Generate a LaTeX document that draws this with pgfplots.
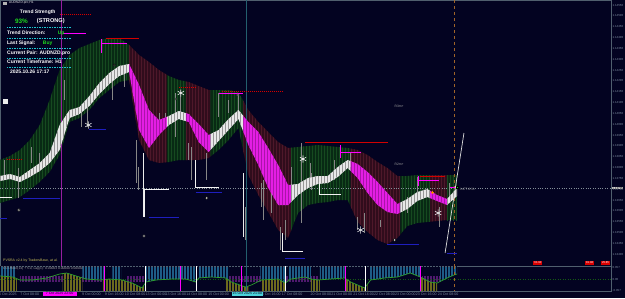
\documentclass[border=0pt]{standalone}
\usepackage{fontspec}
\setmainfont{Liberation Sans}
\usepackage{pgfplots}
\pgfplotsset{compat=1.18}
\usetikzlibrary{patterns}

\definecolor{bg}{RGB}{3,3,33}
\definecolor{axisc}{RGB}{80,95,110}
\definecolor{tickc}{RGB}{125,140,160}
\definecolor{bandG}{RGB}{8,42,20}
\definecolor{stripeG}{RGB}{22,74,32}
\definecolor{bandR}{RGB}{48,12,28}
\definecolor{stripeR}{RGB}{78,24,42}
\definecolor{ribW}{RGB}{232,232,232}
\definecolor{stripeW}{RGB}{150,150,150}
\definecolor{ribM}{RGB}{228,30,228}
\definecolor{stripeM}{RGB}{170,20,170}
\definecolor{candc}{RGB}{135,135,135}
\definecolor{resR}{RGB}{210,0,0}
\definecolor{supB}{RGB}{30,30,190}
\definecolor{mag}{RGB}{255,0,255}
\definecolor{vmag}{RGB}{150,30,160}
\definecolor{teal}{RGB}{35,95,110}
\definecolor{orng}{RGB}{160,100,40}
\definecolor{cyanl}{RGB}{30,200,210}
\definecolor{grn}{RGB}{30,220,30}
\definecolor{oscB}{RGB}{30,92,134}
\definecolor{oscO}{RGB}{108,106,30}
\definecolor{oscP}{RGB}{80,25,110}
\definecolor{oscL}{RGB}{45,160,45}

\pgfplotsset{
  bandg/.style={fill=bandG, draw=none, postaction={pattern=vertical lines, pattern color=stripeG}},
  bandr/.style={fill=bandR, draw=none, postaction={pattern=vertical lines, pattern color=stripeR}},
  ribw/.style={fill=ribW, draw=none, postaction={pattern=vertical lines, pattern color=stripeW}},
  ribm/.style={fill=ribM, draw=none, postaction={pattern=vertical lines, pattern color=stripeM}},
}

\begin{document}
\begin{tikzpicture}
\useasboundingbox (0,0) rectangle (625pt,-298pt);
\fill[bg] (0,0) rectangle (625pt,-298pt);

%================ MAIN PANEL =================
\begin{axis}[
  at={(0pt,0pt)}, anchor=north west,
  scale only axis, width=611pt, height=266pt,
  xmin=0, xmax=615, ymin=0, ymax=266, y dir=reverse,
  axis line style={draw=axisc, line width=0.6pt},
  xtick=\empty,
  ytick={5,15.8,26.7,37.5,48.3,59.2,70,80.8,91.7,102.5,113.3,124.2,135,145.8,156.7,167.5,178.3,189.2,200,210.8,221.7,232.5,243.3,254.2},
  yticklabels={1.14550,1.14500,1.14450,1.14400,1.14350,1.14300,1.14250,1.14200,1.14150,1.14100,1.14050,1.14000,1.13950,1.13900,1.13850,1.13800,1.13750,1.13700,1.13650,1.13600,1.13550,1.13500,1.13450,1.13400},
  ytick pos=right, yticklabel pos=right,
  tick align=outside, major tick length=1.2pt,
  tick style={draw=axisc, line width=0.4pt},
  yticklabel style={font=\fontsize{2.9}{3.2}\selectfont, text=tickc, inner sep=0.3pt},
  clip=false,
]
% ---- envelope band: upper edge then lower edge reversed ----
\addplot[bandg] coordinates {(0,160)(10,156)(20,150)(30,140)(40,125)(50,100)(60,70)(70,55)(80,48)(90,44)(100,40)(110,38)(120,38)(130,45)
 (130,80)(120,82)(110,90)(100,98)(90,110)(80,118)(70,122)(60,155)(50,172)(40,182)(30,190)(20,197)(10,200)(0,203)};
\addplot[bandr] coordinates {(130,45)(140,55)(150,62)(160,70)(168,74.8) (168,162.2)(160,163)(150,160)(140,140)(130,80)};
\addplot[bandg] coordinates {(168,74.8)(170,76)(180,80)(187,81.4) (187,160)(180,160)(170,162)(168,162.2)};
\addplot[bandr] coordinates {(187,81.4)(190,82)(200,86)(210,90)(212,90) (212,156.4)(210,158)(200,160)(190,160)(187,160)};
\addplot[bandg] coordinates {(212,90)(220,90)(230,90)(240,92)(245,101) (245,151.5)(240,128)(230,140)(220,150)(212,156.4)};
\addplot[bandr] coordinates {(245,101)(250,110)(260,122)(270,132)(280,142)(290,148)(293,147.7) (293,230.5)(290,238)(280,230)(270,212)(260,195)(250,175)(245,151.5)};
\addplot[bandg] coordinates {(293,147.7)(300,147)(310,146)(320,145)(330,146)(340,147)(350,148)(353,148.6) (353,206.6)(350,200)(340,200)(330,202)(320,203)(310,205)(300,213)(293,230.5)};
\addplot[bandr] coordinates {(353,148.6)(360,150)(370,155)(380,162)(390,168)(400,176)(403,176) (403,234.4)(400,238)(390,244)(380,240)(370,232)(360,222)(353,206.6)};
\addplot[bandg] coordinates {(403,176)(410,176)(420,175)(430,175)(433,175) (433,221.7)(430,222)(420,223)(410,226)(403,234.4)};
\addplot[bandr] coordinates {(433,175)(440,175)(450,175) (450,220)(440,221)(433,221.7)};
\addplot[bandg] coordinates {(450,175)(460,175) (460,220)(450,220)};

% price line
\addplot[draw=axisc!70, dotted, line width=0.4pt] coordinates {(0,188) (615,188)};

% vertical markers
\addplot[draw=vmag, line width=0.8pt] coordinates {(62,0) (62,266)};
\addplot[draw=teal, line width=1.1pt] coordinates {(248,0) (248,266)};
\addplot[draw=orng, dashed, line width=0.6pt] coordinates {(457,0) (457,266)};

% candles / wicks
\addplot[draw=candc, line width=0.9pt, unbounded coords=jump] coordinates {
(4,160)(4,180) (4,nan)
(19,168)(19,198) (19,nan)
(32,147)(32,163) (32,nan)
(40,153)(40,167) (40,nan)
(53,147)(53,157) (53,nan)
(65,80)(65,100) (65,nan)
(82,107)(82,127) (82,nan)
(88,100)(88,127) (88,nan)
(113,80)(113,100) (113,nan)
(125,70)(125,87) (125,nan)
(137,140)(137,183) (137,nan)
(139,167)(139,190) (139,nan)
(160,113)(160,130) (160,nan)
(167,113)(167,127) (167,nan)
(177,93)(177,137) (177,nan)
(182,90)(182,120) (182,nan)
(190,143)(190,160) (190,nan)
(193,147)(193,180) (193,nan)
(208,153)(208,180) (208,nan)
(220,93)(220,117) (220,nan)
(230,100)(230,113) (230,nan)
(240,93)(240,113) (240,nan)
(247,207)(247,240) (247,nan)
(263,183)(263,207) (263,nan)
(265,180)(265,220) (265,nan)
(273,190)(273,213) (273,nan)
(282,227)(282,250) (282,nan)
(287,220)(287,240) (287,nan)
(293,167)(293,187) (293,nan)
(303,143)(303,223) (303,nan)
(312,163)(312,180) (312,nan)
(313,173)(313,190) (313,nan)
(337,160)(337,180) (337,nan)
(353,153)(353,167) (353,nan)
(360,217)(360,230) (360,nan)
(367,213)(367,233) (367,nan)
(383,220)(383,227) (383,nan)
(410,197)(410,213) (410,nan)
(420,177)(420,193) (420,nan)
(442,207)(442,227) (442,nan)
(452,183)(452,197)
};
\addplot[draw=white!85!gray, line width=1.1pt, unbounded coords=jump] coordinates {
(144,153)(144,217) (144,nan)
(245,173)(245,237)
};

% ---- moving-average ribbon: top edge then bottom edge reversed ----
\addplot[ribw] coordinates {(0,176)(10,174)(20,177)(30,170)(40,163)(50,153)(60,125)(70,110)(80,107)(90,96)(100,83)(110,73)(120,66)(130,64)
 (130,72)(120,76)(110,84)(100,94)(90,106)(80,114)(70,118)(60,150)(50,163)(40,171)(30,177)(20,182)(10,179)(0,181)};
\addplot[ribm] coordinates {(130,64)(140,85)(150,110)(160,120)(168,116.8) (168,127)(160,135)(150,148)(140,130)(130,72)};
\addplot[ribw] coordinates {(168,116.8)(170,116)(180,111)(187,113.1) (187,121.1)(180,119)(170,125)(168,127)};
\addplot[ribm] coordinates {(187,113.1)(190,114)(200,124)(210,135)(212,134) (212,149.8)(210,152)(200,142)(190,122)(187,121.1)};
\addplot[ribw] coordinates {(212,134)(220,130)(230,119)(240,110)(245,116) (245,132)(240,119)(230,130)(220,141)(212,149.8)};
\addplot[ribm] coordinates {(245,116)(250,122)(260,132)(270,148)(280,165)(290,185)(293,184.7) (293,202)(290,205)(280,205)(270,188)(260,165)(250,145)(245,132)};
\addplot[ribw] coordinates {(293,184.7)(300,184)(310,178)(320,176)(330,176)(340,167)(350,160)(353,161.2) (353,171)(350,168)(340,177)(330,183)(320,184)(310,188)(300,195)(293,202)};
\addplot[ribm] coordinates {(353,161.2)(360,164)(370,172)(380,182)(390,193)(400,204)(403,202.5) (403,212.5)(400,214)(390,212)(380,205)(370,193)(360,178)(353,171)};
\addplot[ribw] coordinates {(403,202.5)(410,199)(420,192)(430,189)(433,190.8) (433,198.2)(430,197)(420,201)(410,209)(403,212.5)};
\addplot[ribm] coordinates {(433,190.8)(440,195)(450,199) (450,205)(440,201)(433,198.2)};
\addplot[ribw] coordinates {(450,199)(460,188) (460,196)(450,205)};

% resistance lines (red)
\addplot[draw=resR, line width=0.8pt, dash pattern=on 1.5pt off 0.5pt, unbounded coords=jump] coordinates {
(60,14)(92,14) (92,nan) (107,38)(140,38) (140,nan) (180,87)(197,87) (197,nan)
(223,91)(285,91) (285,nan) (7,159)(23,159) (23,nan) (307,142)(391,142) (391,nan)
(423,176)(448,176)};
% magenta levels
\addplot[draw=mag, line width=0.9pt, unbounded coords=jump] coordinates {
(63,33)(87,33) (87,nan) (102,43)(128,43) (128,nan) (102,39)(102,53) (102,nan)
(220,93)(245,93) (245,nan) (343,152)(363,152) (363,nan) (343,145)(343,158) (343,nan)
(420,180)(442,180) (442,nan) (421,176)(421,186) (421,nan) (453,187)(460,187)};
% support lines (blue)
\addplot[draw=supB, line width=0.8pt, unbounded coords=jump] coordinates {
(23,198)(60,198) (60,nan) (0,218)(7,218) (7,nan) (90,129)(107,129) (107,nan)
(150,217)(180,217) (180,nan) (197,192)(223,192) (223,nan) (287,258)(307,258) (307,nan)
(390,244)(422,244) (422,nan) (450,253)(460,253)};
% white L-levels
\addplot[draw=white!90!gray, line width=0.9pt, unbounded coords=jump] coordinates {
(0,197)(12,197) (12,nan)
(145,217)(145,189)(170,189) (170,nan)
(197,160)(197,187)(220,187) (220,nan)
(284,233)(284,251)(305,251) (305,nan)
(322,182)(322,194)(343,194)};
% diagonal
\addplot[draw=white!75!gray, line width=0.7pt] coordinates {(448,253) (467,133)};

% markers
\addplot[only marks, mark=asterisk, mark size=3.6pt, draw=white!85!gray, line width=0.6pt] coordinates {(89,125)(182,93)(305,159)(363,230)(441,213)};
\addplot[only marks, mark=*, mark size=1.4pt, fill=white!90!gray, draw=none] coordinates {(19,210)(145,236)(208,198)(397,240)};
\addplot[only marks, mark=*, mark size=1pt, fill=white, draw=none] coordinates {(115,65)(177,99)(239,95)};
\addplot[only marks, mark=+, mark size=1.5pt, draw=orange, line width=0.6pt] coordinates {(435,192)};
\addplot[only marks, mark=square*, mark size=1pt, fill=grn, draw=none] coordinates {(460,187)};

% small texts
\node[anchor=west, text=gray!70, font=\fontsize{3.3}{4}\selectfont, inner sep=0pt] at (axis cs:397,106) {R3m+};
\node[anchor=west, text=gray!70, font=\fontsize{3.3}{4}\selectfont, inner sep=0pt] at (axis cs:397,164) {R2m+};
\node[anchor=west, text=gray!70, font=\fontsize{3.3}{4}\selectfont, inner sep=0pt] at (axis cs:463,189) {1477.6.31};
\node[anchor=west, text=white!80!gray, font=\fontsize{3.3}{4}\selectfont, inner sep=0pt] at (axis cs:9,3) {AUDNZD.pro,H1};
\fill[gray!60] (axis cs:3,1.5) rectangle (axis cs:7,5);
\fill[white!85!gray] (axis cs:3,99) rectangle (axis cs:8,104);
\node[anchor=west, text={rgb,255:red,200;green,190;blue,90}, font=\fontsize{3.5}{4}\selectfont, inner sep=0pt] at (axis cs:3,261) {PVSRA v2.4 by TradersBase, at al.};

% red boxes
\node[fill=red!85!black, text=white, font=\fontsize{2.8}{3.2}\selectfont, inner sep=0.6pt, minimum width=9pt, anchor=center] at (axis cs:541.5,263) {61.90};
\node[fill=red!85!black, text=white, font=\fontsize{2.8}{3.2}\selectfont, inner sep=0.6pt, minimum width=9pt, anchor=center] at (axis cs:593.5,263) {81.98};
\node[fill=red!85!black, text=white, font=\fontsize{2.8}{3.2}\selectfont, inner sep=0.6pt, minimum width=9pt, anchor=center] at (axis cs:609.5,263) {25.85};

% current price label
\node[fill=gray!30, text=black, font=\fontsize{2.9}{3.2}\selectfont, inner sep=0.3pt, anchor=west] at (axis cs:616,188) {1.13705};

% info panel
\node[anchor=center, text=white, font=\bfseries\fontsize{5}{6}\selectfont, inner sep=0pt] at (axis cs:38,12) {Trend Strength};
\node[anchor=west, text=grn, font=\bfseries\fontsize{6.4}{7}\selectfont, inner sep=0pt] at (axis cs:15,21) {93\%};
\node[anchor=west, text=white, font=\bfseries\fontsize{5.6}{7}\selectfont, inner sep=0pt] at (axis cs:37,21) {(STRONG)};
\node[anchor=west, text=white, font=\bfseries\fontsize{5}{6}\selectfont, inner sep=0pt] at (axis cs:7,33) {Trend Direction:};
\node[anchor=west, text=grn, font=\bfseries\fontsize{5}{6}\selectfont, inner sep=0pt] at (axis cs:58,33) {Up};
\node[anchor=west, text=white, font=\bfseries\fontsize{5}{6}\selectfont, inner sep=0pt] at (axis cs:7,43) {Last Signal:};
\node[anchor=west, text=grn, font=\bfseries\fontsize{5}{6}\selectfont, inner sep=0pt] at (axis cs:43,43) {Buy};
\node[anchor=west, text=white, font=\bfseries\fontsize{5}{6}\selectfont, inner sep=0pt] at (axis cs:7,53) {Current Pair: AUDNZD.pro};
\node[anchor=west, text=white, font=\bfseries\fontsize{5}{6}\selectfont, inner sep=0pt] at (axis cs:7,62) {Current Timeframe: H1};
\node[anchor=west, text=white, font=\bfseries\fontsize{5}{6}\selectfont, inner sep=0pt] at (axis cs:10,72) {2025.10.26 17:17};
\draw[cyanl, line width=0.6pt, dash pattern=on 1.5pt off 1pt] (axis cs:7,27) -- (axis cs:72,27);
\draw[cyanl, line width=0.6pt, dash pattern=on 1.5pt off 1pt] (axis cs:7,38) -- (axis cs:72,38);
\draw[cyanl, line width=0.6pt, dash pattern=on 1.5pt off 1pt] (axis cs:7,48) -- (axis cs:72,48);
\draw[cyanl, line width=0.6pt, dash pattern=on 1.5pt off 1pt] (axis cs:7,58) -- (axis cs:72,58);
\draw[cyanl, line width=0.6pt, dash pattern=on 1.5pt off 1pt] (axis cs:7,67) -- (axis cs:72,67);
\end{axis}

%================ OSCILLATOR PANEL =================
\begin{axis}[
  at={(0pt,-266pt)}, anchor=north west,
  scale only axis, width=611pt, height=25pt,
  xmin=0, xmax=615, ymin=266, ymax=291, y dir=reverse,
  axis line style={draw=axisc, line width=0.6pt},
  ytick={267,279,290}, yticklabels={0.057,0.00,-0.057},
  ytick pos=right, yticklabel pos=right,
  xtick={8,30,92,115,136,157,177,198,220,272,294,323,344,366,387,408,429,451},
  xticklabels={6 Oct 2025,7 Oct 08:00,9 Oct 00:00,9 Oct 16:00,10 Oct 08:00,13 Oct 00:00,13 Oct 16:00,14 Oct 08:00,15 Oct 00:00,16 Oct 16:00,17 Oct 08:00,20 Oct 08:00,21 Oct 00:00,21 Oct 16:00,22 Oct 08:00,23 Oct 00:00,23 Oct 16:00,24 Oct 08:00},
  xtick pos=bottom,
  tick align=outside, major tick length=1.2pt,
  tick style={draw=axisc, line width=0.4pt},
  yticklabel style={font=\fontsize{2.9}{3.2}\selectfont, text=tickc, inner sep=0.3pt},
  xticklabel style={font=\fontsize{3.6}{4}\selectfont, text=tickc, inner sep=0.6pt},
  clip=false,
]
% purple near-zero bars
\addplot[fill=oscP, draw=none] coordinates {(20,276)(63,276)(63,282)(20,282)};
\addplot[fill=oscP, draw=none] coordinates {(83,276)(105,276)(105,282)(83,282)};
\addplot[fill=oscP, draw=none] coordinates {(127,276)(147,276)(147,282)(127,282)};
\addplot[fill=oscP, draw=none] coordinates {(230,276)(263,276)(263,282)(230,282)};
\addplot[fill=oscP, draw=none] coordinates {(287,276)(320,276)(320,282)(287,282)};
\addplot[fill=oscP, draw=none] coordinates {(425,276)(445,276)(445,282)(425,282)};
% blue bars: from top down to the line
\addplot[fill=oscB, draw=none] coordinates {(0,267)(0,276)(13,277)(15,278)(15,267)};
\addplot[fill=oscB, draw=none] coordinates {(83,267)(83,278)(87,279)(100,280)(105,279.5)(105,267)};
\addplot[fill=oscB, draw=none] coordinates {(113,267)(113,279.2)(122,280)(122,267)};
\addplot[fill=oscB, draw=none] coordinates {(147,267)(147,282)(157,280)(173,279)(187,279)(197,282)(197,267)};
\addplot[fill=oscB, draw=none] coordinates {(200,267)(200,278)(213,277)(227,278)(230,280)(230,267)};
\addplot[fill=oscB, draw=none] coordinates {(262,267)(262,280.5)(263,280)(280,279)(287,283)(288,282.3)(288,267)};
\addplot[fill=oscB, draw=none] coordinates {(290,267)(290,281)(293,279)(307,277)(313,279)(313,267)};
\addplot[fill=oscB, draw=none] coordinates {(322,267)(322,279.8)(333,279)(347,278)(347,267)};
\addplot[fill=oscB, draw=none] coordinates {(372,267)(372,281.3)(373,280)(387,278)(400,277)(413,273)(423,277)(423,267)};
\addplot[fill=oscB, draw=none] coordinates {(443,267)(443,281.5)(450,278)(457,275)(460,274)(460,267)};
% olive bars: from bottom up to the line
\addplot[fill=oscO, draw=none] coordinates {(0,291)(0,276)(13,277)(17,278.7)(17,291)};
\addplot[fill=oscO, draw=none] coordinates {(63,291)(63,273.6)(67,273)(80,277)(83,277.9)(83,291)};
\addplot[fill=oscO, draw=none] coordinates {(103,291)(103,279.7)(110,279)(123,280)(133,283)(143,288)(147,282)(147,291)};
\addplot[fill=oscO, draw=none] coordinates {(227,291)(227,278)(233,282)(247,287)(250,286)(250,291)};
\addplot[fill=oscO, draw=none] coordinates {(263,291)(263,280)(280,279)(287,283)(287,291)};
\addplot[fill=oscO, draw=none] coordinates {(313,291)(313,279)(320,280)(322,279.8)(322,291)};
\addplot[fill=oscO, draw=none] coordinates {(348,291)(348,278.7)(353,282)(367,288)(370,284)(370,291)};
\addplot[fill=oscO, draw=none] coordinates {(423,291)(423,277)(433,282)(440,283)(440,291)};
% bar gaps
\addplot[pattern=vertical lines, pattern color=bg, draw=none] coordinates {(0,266.3)(460,266.3)(460,290.7)(0,290.7)};

\addplot[draw={rgb,255:red,20;green,90;blue,20}, dotted, line width=0.5pt] coordinates {(0,279) (615,279)};
\addplot[draw=oscL, line width=0.7pt] coordinates {(0,276)(13,277)(20,280)(33,280)(47,278)(60,274)(67,273)(80,277)(87,279)(100,280)(110,279)(123,280)(133,283)(143,288)(147,282)(157,280)(173,279)(187,279)(197,282)(200,278)(213,277)(227,278)(233,282)(247,287)(253,285)(263,280)(280,279)(287,283)(293,279)(307,277)(313,279)(320,280)(333,279)(347,278)(353,282)(367,288)(373,280)(387,278)(400,277)(413,273)(423,277)(433,282)(440,283)(450,278)(457,275)(460,274)};

\addplot[draw=mag, line width=0.8pt, unbounded coords=jump] coordinates {(105,266)(105,291) (105,nan) (182,266)(182,291) (182,nan) (243,266)(243,291) (243,nan) (348,266)(348,291) (348,nan) (423,266)(423,291)};
\addplot[draw=white, line width=0.8pt, unbounded coords=jump] coordinates {(146,266)(146,291) (146,nan) (198,266)(198,291) (198,nan) (287,266)(287,291) (287,nan) (368,266)(368,291)};
\addplot[draw=teal, line width=1.1pt] coordinates {(248,266) (248,291)};
\addplot[draw=orng, dashed, line width=0.6pt] coordinates {(457,266) (457,291)};

\node[anchor=west, text=gray!70, font=\fontsize{3.3}{4}\selectfont, inner sep=0pt] at (axis cs:3,269) {CCI-Histo(14) + 5.0, Lag(1): 0.00003 0.00000 0.00000};

% highlighted time labels
\node[fill=mag, text=bg, font=\fontsize{3.6}{4}\selectfont, inner sep=0.6pt, minimum width=34pt, anchor=north] at (axis cs:60,291.6) {7 Oct 2025 22:00};
\node[fill=cyanl!80, text=bg, font=\fontsize{3.6}{4}\selectfont, inner sep=0.6pt, minimum width=28pt, anchor=north] at (axis cs:249,291.6) {15 Oct 2025 21:00};
\end{axis}
\end{tikzpicture}
\end{document}
